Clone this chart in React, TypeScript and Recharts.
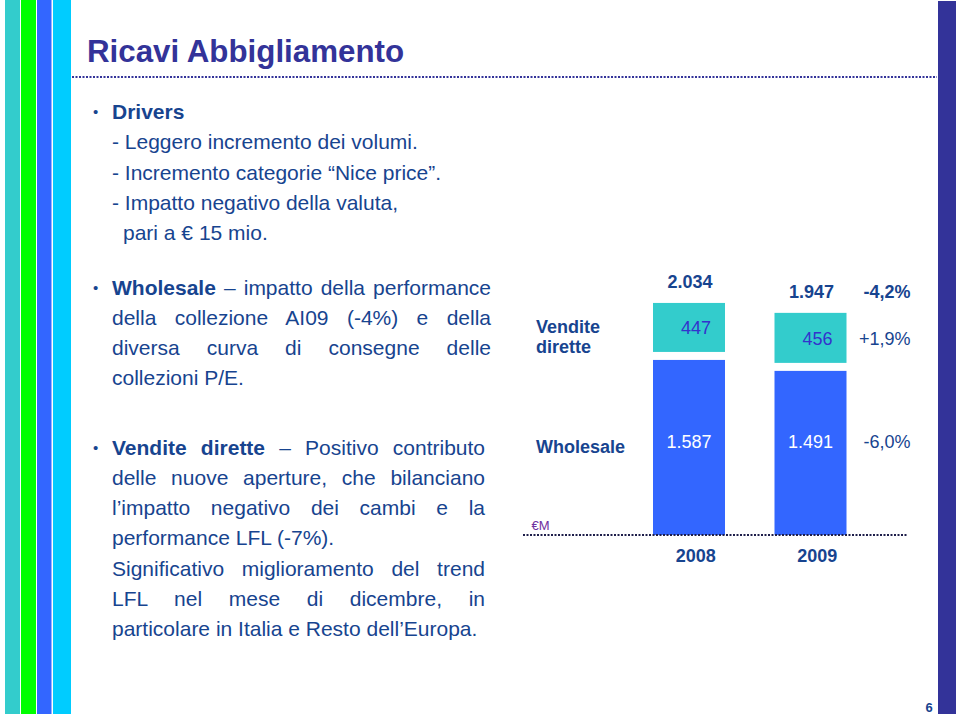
import React from "react";
import { BarChart, Bar, XAxis, YAxis } from "recharts";

const anni = ["2008", "2009"];
const wholesale = [1587, 1491];
const venditeDirette = [447, 456];
const totali = [2034, 1947];
const varTotale = "-4,2%";
const varVendite = "+1,9%";
const varWholesale = "-6,0%";

const data = anni.map((anno, i) => ({
  anno,
  wholesale: wholesale[i],
  vendite: venditeDirette[i],
  totale: totali[i],
}));

const FONT = "'Liberation Sans', Arial, sans-serif";
const TESTO = "#17448F";
const VIOLA = "#333399";
const BLU = "#3366FF";
const CIANO = "#33CCCC";
const LH = 30.3;

const fmt = (n: number) => String(n).replace(/\B(?=(\d{3})+(?!\d))/g, ".");

// eslint-disable-next-line @typescript-eslint/no-explicit-any
const WholesaleShape = (p: any) => {
  const { x, y, width, height, index } = p;
  const bottom = y + height;
  const last = index === anni.length - 1;
  return (
    <g>
      <rect x={x} y={y + 6} width={width} height={Math.max(0, height - 6)} fill={BLU} />
      <text x={x + width / 2} y={bottom - 87} textAnchor="middle" fill="#fff" fontSize={18}>
        {fmt(wholesale[index])}
      </text>
      {last && (
        <text x={x + width + 64} y={bottom - 87} textAnchor="end" fill={TESTO} fontSize={18}>
          {varWholesale}
        </text>
      )}
    </g>
  );
};

// eslint-disable-next-line @typescript-eslint/no-explicit-any
const VenditeShape = (p: any) => {
  const { x, y, width, height, index } = p;
  const h = Math.max(0, height - 2);
  const cx = x + width / 2;
  const vy = y + h / 2 + 7;
  const last = index === anni.length - 1;
  return (
    <g>
      <rect x={x} y={y} width={width} height={h} fill={CIANO} />
      <text x={cx + 7} y={vy} textAnchor="middle" fill="#3333CC" fontSize={18}>
        {venditeDirette[index]}
      </text>
      <text x={cx + 1} y={y - 15} textAnchor="middle" fill={TESTO} fontSize={18} fontWeight="bold">
        {fmt(totali[index])}
      </text>
      {last && (
        <>
          <text x={x + width + 64} y={vy} textAnchor="end" fill={TESTO} fontSize={18}>
            {varVendite}
          </text>
          <text x={x + width + 64} y={y - 15} textAnchor="end" fill={TESTO} fontSize={18} fontWeight="bold">
            {varTotale}
          </text>
        </>
      )}
    </g>
  );
};

// eslint-disable-next-line @typescript-eslint/no-explicit-any
const AnnoTick = (p: any) => (
  <text x={p.x + 7} y={p.y + 19} textAnchor="middle" fill={TESTO} fontSize={18} fontWeight="bold">
    {p.payload.value}
  </text>
);

const Riga = ({
  children,
  justify = false,
  bullet = false,
  indent = 0,
}: {
  children: React.ReactNode;
  justify?: boolean;
  bullet?: boolean;
  indent?: number;
}) => (
  <div
    style={{
      position: "relative",
      height: LH,
      lineHeight: `${LH}px`,
      textAlign: justify ? "justify" : "left",
      textAlignLast: justify ? "justify" : "left",
      paddingLeft: indent,
    }}
  >
    {bullet && <span style={{ position: "absolute", left: -19, fontSize: 15 }}>•</span>}
    {children}
  </div>
);

const para = (top: number, width: number): React.CSSProperties => ({
  position: "absolute",
  left: 112,
  top,
  width,
  fontSize: 21,
  color: TESTO,
});

export default function App() {
  return (
    <div style={{ position: "relative", width: 960, height: 716, background: "#fff", fontFamily: FONT, overflow: "hidden" }}>
      <style>{`body{margin:0}`}</style>

      {/* cornice della slide */}
      <svg width={960} height={716} style={{ position: "absolute", left: 0, top: 0 }}>
        <rect x={5} y={0} width={15} height={714} fill="#33CCCC" />
        <rect x={21} y={0} width={15} height={714} fill="#00FF00" />
        <rect x={37} y={0} width={14.5} height={714} fill="#3366FF" />
        <rect x={53} y={0} width={18} height={714} fill="#00CCFF" />
        <rect x={938} y={1} width={18} height={713} fill={VIOLA} />
        <line x1={72} x2={937} y1={77} y2={77} stroke={VIOLA} strokeWidth={2} strokeDasharray="2 1.5" />
        <text x={87} y={61.7} fontSize={31.3} fontWeight="bold" fill={VIOLA}>
          Ricavi Abbigliamento
        </text>
        <text x={536} y={333.3} fontSize={18} fontWeight="bold" fill={TESTO}>Vendite</text>
        <text x={536} y={353.3} fontSize={18} fontWeight="bold" fill={TESTO}>dirette</text>
        <text x={536} y={453.3} fontSize={18} fontWeight="bold" fill={TESTO}>Wholesale</text>
        <text x={531.5} y={530} fontSize={13} fill="#7030A0">€M</text>
        <text x={925.5} y={712} fontSize={13} fontWeight="bold" fill={TESTO}>6</text>
      </svg>

      <div style={para(97, 380)}>
        <Riga bullet>
          <b>Drivers</b>
        </Riga>
        <Riga>- Leggero incremento dei volumi.</Riga>
        <Riga>- Incremento categorie “Nice price”.</Riga>
        <Riga>- Impatto negativo della valuta,</Riga>
        <Riga indent={11}>pari a € 15 mio.</Riga>
      </div>

      <div style={para(272.6, 379)}>
        <Riga bullet justify>
          <b>Wholesale</b> – impatto della performance
        </Riga>
        <Riga justify>della collezione AI09 (-4%) e della</Riga>
        <Riga justify>diversa curva di consegne delle</Riga>
        <Riga>collezioni P/E.</Riga>
      </div>

      <div style={para(432.6, 373)}>
        <Riga bullet justify>
          <b>Vendite dirette</b> – Positivo contributo
        </Riga>
        <Riga justify>delle nuove aperture, che bilanciano</Riga>
        <Riga justify>l’impatto negativo dei cambi e la</Riga>
        <Riga>performance LFL (-7%).</Riga>
        <Riga justify>Significativo miglioramento del trend</Riga>
        <Riga justify>LFL nel mese di dicembre, in</Riga>
        <Riga>particolare in Italia e Resto dell’Europa.</Riga>
      </div>

      <div style={{ position: "absolute", left: 0, top: 0 }}>
        <BarChart width={960} height={716} data={data} margin={{ top: 284, right: 53, bottom: 151, left: 523 }}>
          <YAxis hide domain={[0, 2200]} />
          <XAxis
            dataKey="anno"
            height={30}
            padding={{ left: 105, right: 36 }}
            tickLine={false}
            axisLine={{ stroke: "#1E1E4A", strokeWidth: 2, strokeDasharray: "2 1.5" }}
            tick={<AnnoTick />}
            interval={0}
          />
          <Bar dataKey="wholesale" stackId="a" barSize={72} shape={<WholesaleShape />} isAnimationActive={false} />
          <Bar dataKey="vendite" stackId="a" barSize={72} shape={<VenditeShape />} isAnimationActive={false} />
        </BarChart>
      </div>
    </div>
  );
}
